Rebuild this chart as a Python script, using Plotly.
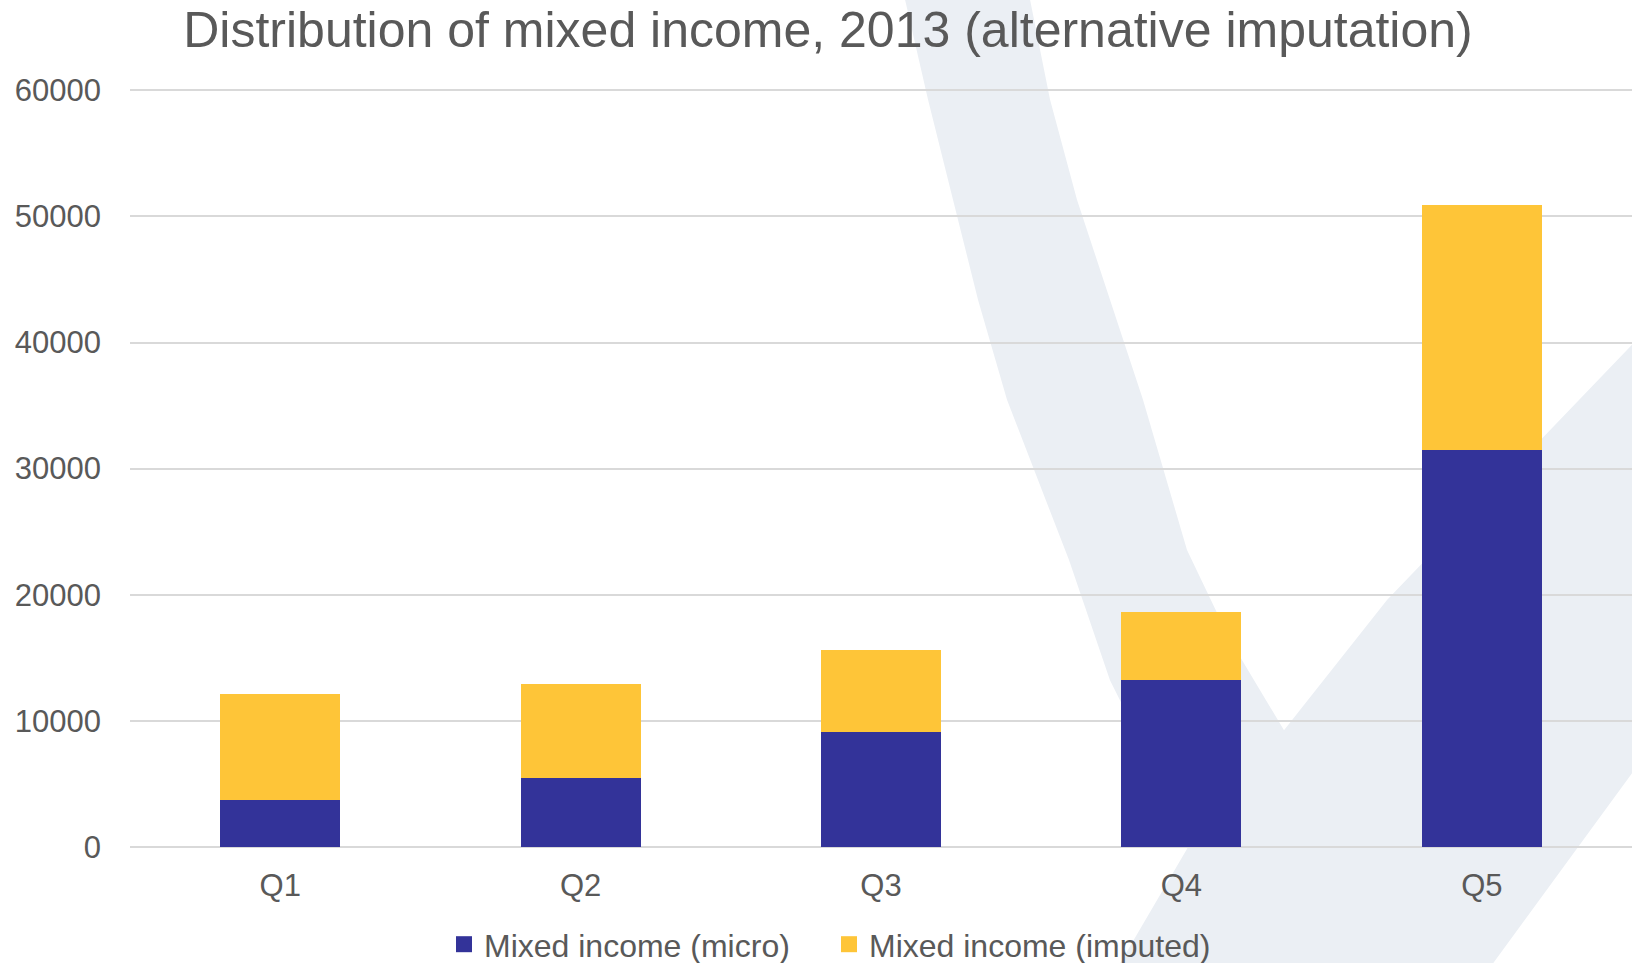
import plotly.graph_objects as go

# ---- data ----
categories = ["Q1", "Q2", "Q3", "Q4", "Q5"]
micro = [3700, 5450, 9130, 13230, 31500]
imputed = [8400, 7450, 6470, 5420, 19400]
series_names = ["Mixed income (micro)", "Mixed income (imputed)"]
series_colors = ["#333399", "#FEC538"]
y_ticks = [0, 10000, 20000, 30000, 40000, 50000, 60000]
y_max = 60100

# ---- layout geometry (pixels) ----
W, H = 1632, 963
ML, MR = 130, 0
Y0 = 846.7            # pixel row of value 0
PX_PER_UNIT = 126.0 / 10000
PH = y_max * PX_PER_UNIT
MT = Y0 - PH
MB = H - Y0
PW = W - ML - MR

def px(x, y):
    """pixel coords -> paper coords"""
    return (x - ML) / PW, (Y0 - y) / PH

# watermark outline (decorative background)
wm_pts = [(905, 0), (1030, 0), (1050, 100), (1077, 200), (1110, 300), (1143, 400),
          (1187, 550), (1230, 640), (1284, 730),
          (1387, 600), (1632, 345), (1632, 773), (1493, 963), (1120, 963),
          (1195, 835), (1150, 760), (1110, 680), (1069, 560), (1007, 400),
          (978, 300), (953, 200), (928, 100)]
path = ""
for i, (x, y) in enumerate(wm_pts):
    X, Y = px(x, y)
    path += ("M" if i == 0 else "L") + f"{X:.5f},{Y:.5f} "
path += "Z"

FONT = "Liberation Sans, Arial, sans-serif"
TXT = "#595959"

fig = go.Figure()
for vals, name, col in zip([micro, imputed], series_names, series_colors):
    fig.add_trace(go.Bar(x=categories, y=vals, name=name, showlegend=False,
                         legendgroup=name,
                         marker=dict(color=col, line=dict(width=0))))
# legend-only entries with larger square swatches
for name, col in zip(series_names, series_colors):
    fig.add_trace(go.Scatter(x=[None], y=[None], mode="markers", name=name,
                             legendgroup=name,
                             marker=dict(symbol="square", size=16, color=col)))

fig.update_layout(
    width=W, height=H,
    margin=dict(l=ML, r=MR, t=MT, b=MB, pad=0, autoexpand=False),
    barmode="stack", bargap=0.6,
    paper_bgcolor="white", plot_bgcolor="rgba(0,0,0,0)",
    font=dict(family=FONT, color=TXT, size=31),
    title=dict(text="Distribution of mixed income, 2013 (alternative imputation)",
               font=dict(family=FONT, size=50, color=TXT),
               x=828 / W, xanchor="center", xref="container",
               y=1 - 29 / H, yanchor="middle", yref="container"),
    showlegend=True,
    legend=dict(orientation="h", x=(444 - ML) / PW, xanchor="left",
                y=px(0, 944)[1], yanchor="middle",
                font=dict(family=FONT, size=32, color=TXT),
                entrywidth=340, entrywidthmode="pixels",
                traceorder="normal", bgcolor="rgba(0,0,0,0)"),
    shapes=[dict(type="path", path=path, xref="paper", yref="paper",
                 fillcolor="#EBEFF4", line=dict(width=0), layer="below")],
)
fig.update_xaxes(showgrid=False, showline=False, zeroline=False,
                 tickfont=dict(family=FONT, size=31, color=TXT),
                 ticklabelstandoff=17)
fig.update_yaxes(range=[0, y_max], tickvals=y_ticks,
                 showgrid=True, gridcolor="#D9D9D9", gridwidth=2,
                 zeroline=True, zerolinecolor="#D9D9D9", zerolinewidth=2,
                 showline=False,
                 tickfont=dict(family=FONT, size=31, color=TXT),
                 ticklabelstandoff=28, tickformat="d")

fig.write_html("out.html")
